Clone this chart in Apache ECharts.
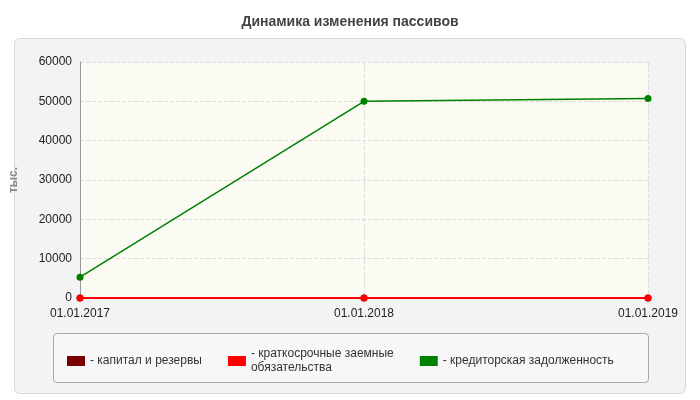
<!DOCTYPE html>
<html><head><meta charset="utf-8">
<script src="https://cdn.jsdelivr.net/npm/echarts@6/dist/echarts.min.js"></script>
<style>html,body{margin:0;padding:0;background:#fff}
#wrap{position:absolute;left:14px;top:38px;width:670px;height:354px;background:#f3f3f3;border:1px solid #d8d8d8;border-radius:6px}
#lg{position:absolute;left:53px;top:333px;width:594px;height:48px;border:1px solid #aaa;border-radius:4px;background:#f7f7f7}
#c{position:absolute;left:0;top:0;width:700px;height:400px}</style>
</head><body>
<div id="wrap"></div><div id="lg"></div>
<div id="c"></div>
<script>
const categories=['01.01.2017','01.01.2018','01.01.2019'];
const capital=[0,0,0];
const shortLoans=[0,0,0];
const payables=[5300,50000,50700];
const names=['- капитал и резервы','- краткосрочные заемные\nобязательства','- кредиторская задолженность'];
const colors=['#7a0000','#ff0000','#008000'];
const chart=echarts.init(document.getElementById('c'));
const mk=(n,d,c,z)=>({name:n,type:'line',data:d,symbol:'circle',symbolSize:7,z:z,
 itemStyle:{color:c},lineStyle:{color:c,width:z==2?2:1.5}});
chart.setOption({
 animation:false,
 title:{text:'Динамика изменения пассивов',left:'center',top:10,textStyle:{fontFamily:'Arial',fontSize:14,fontWeight:'bold',color:'#444'}},
 grid:{left:79,right:52,top:62,bottom:102},
 legend:{left:62,top:342,itemWidth:18,itemHeight:10,itemGap:26,icon:'rect',align:'left',
  textStyle:{fontFamily:'Arial',fontSize:12,color:'#333',lineHeight:14,verticalAlign:'top',padding:[0,0,0,0]},data:names},
 xAxis:{type:'category',data:categories,boundaryGap:false,
  axisLine:{lineStyle:{color:'#999'}},axisTick:{show:false},
  splitLine:{show:true,lineStyle:{type:'dashed',color:'#ddd'}},
  axisLabel:{fontFamily:'Arial',fontSize:12,color:'#222',margin:10,alignMinLabel:'center',alignMaxLabel:'center'}},
 yAxis:{type:'value',min:0,max:60000,interval:10000,name:'тыс.',nameLocation:'middle',nameGap:60,
  nameTextStyle:{fontFamily:'Arial',fontSize:12,fontWeight:'bold',color:'#888'},
  axisLine:{show:true,lineStyle:{color:'#999'}},axisTick:{show:false},
  splitLine:{lineStyle:{type:'dashed',color:'#ddd'}},
  splitArea:{show:true,areaStyle:{color:['#fbfbf3','#fbfbf3']}},
  axisLabel:{fontFamily:'Arial',fontSize:12,color:'#222',formatter:v=>String(v)}},
 series:[mk(names[0],capital,colors[0],1),mk(names[1],shortLoans,colors[1],2),mk(names[2],payables,colors[2],3)]
});
</script></body></html>
